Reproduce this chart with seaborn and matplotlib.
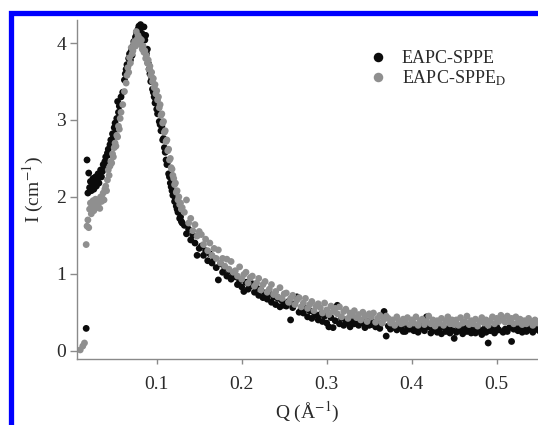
import numpy as np
import pandas as pd
import matplotlib
matplotlib.use("Agg")
import matplotlib.pyplot as plt
from matplotlib.patches import Rectangle
import seaborn as sns

nan = np.nan

# Scattering vector Q (1/Å), shared by both samples
q = [
    0.010, 0.011, 0.012, 0.013, 0.014, 0.015, 0.016, 0.017, 0.018, 0.019,
    0.020, 0.021, 0.022, 0.023, 0.024, 0.025, 0.026, 0.027, 0.028, 0.029,
    0.030, 0.031, 0.032, 0.033, 0.034, 0.035, 0.036, 0.037, 0.038, 0.039,
    0.040, 0.041, 0.042, 0.043, 0.044, 0.045, 0.046, 0.047, 0.048, 0.049,
    0.050, 0.051, 0.052, 0.053, 0.054, 0.055, 0.056, 0.057, 0.058, 0.059,
    0.060, 0.061, 0.062, 0.063, 0.064, 0.065, 0.066, 0.067, 0.068, 0.069,
    0.070, 0.071, 0.072, 0.073, 0.074, 0.075, 0.076, 0.077, 0.078, 0.079,
    0.080, 0.081, 0.082, 0.083, 0.084, 0.085, 0.086, 0.087, 0.088, 0.089,
    0.090, 0.091, 0.092, 0.093, 0.094, 0.095, 0.096, 0.097, 0.098, 0.099,
    0.100, 0.101, 0.102, 0.103, 0.104, 0.105, 0.106, 0.107, 0.108, 0.109,
    0.110, 0.111, 0.112, 0.113, 0.114, 0.115, 0.116, 0.117, 0.118, 0.119,
    0.120, 0.121, 0.122, 0.123, 0.124, 0.125, 0.126, 0.127, 0.128, 0.129,
    0.130,
    0.1325, 0.1350, 0.1375, 0.1400, 0.1425, 0.1450, 0.1475, 0.1500,
    0.1525, 0.1550, 0.1575, 0.1600, 0.1625, 0.1650, 0.1675, 0.1700,
    0.1725, 0.1750, 0.1775, 0.1800, 0.1825, 0.1850, 0.1875, 0.1900,
    0.1925, 0.1950, 0.1975, 0.2000, 0.2025, 0.2050, 0.2075, 0.2100,
    0.2125, 0.2150, 0.2175, 0.2200, 0.2225, 0.2250, 0.2275, 0.2300,
    0.2325, 0.2350, 0.2375, 0.2400, 0.2425, 0.2450, 0.2475, 0.2500,
    0.2525, 0.2550, 0.2575, 0.2600, 0.2625, 0.2650, 0.2675, 0.2700,
    0.2725, 0.2750, 0.2775, 0.2800, 0.2825, 0.2850, 0.2875, 0.2900,
    0.2925, 0.2950, 0.2975, 0.3000, 0.3025, 0.3050, 0.3075, 0.3100,
    0.3125, 0.3150, 0.3175, 0.3200, 0.3225, 0.3250, 0.3275, 0.3300,
    0.3325, 0.3350, 0.3375, 0.3400, 0.3425, 0.3450, 0.3475, 0.3500,
    0.3525, 0.3550, 0.3575, 0.3600, 0.3625, 0.3650, 0.3675, 0.3700,
    0.3725, 0.3750, 0.3775, 0.3800, 0.3825, 0.3850, 0.3875, 0.3900,
    0.3925, 0.3950, 0.3975, 0.4000, 0.4025, 0.4050, 0.4075, 0.4100,
    0.4125, 0.4150, 0.4175, 0.4200, 0.4225, 0.4250, 0.4275, 0.4300,
    0.4325, 0.4350, 0.4375, 0.4400, 0.4425, 0.4450, 0.4475, 0.4500,
    0.4525, 0.4550, 0.4575, 0.4600, 0.4625, 0.4650, 0.4675, 0.4700,
    0.4725, 0.4750, 0.4775, 0.4800, 0.4825, 0.4850, 0.4875, 0.4900,
    0.4925, 0.4950, 0.4975, 0.5000, 0.5025, 0.5050, 0.5075, 0.5100,
    0.5125, 0.5150, 0.5175, 0.5200, 0.5225, 0.5250, 0.5275, 0.5300,
    0.5325, 0.5350, 0.5375, 0.5400, 0.5425, 0.5450, 0.5475, 0.5500,
]

# Intensity I (1/cm), EAPC-SPPE
i_h = [
    nan, nan, nan, nan, nan, nan, nan, 0.29, 2.48, 2.05,
    2.31, 2.12, 2.20, 2.08, 2.16, 2.24, 2.10, 2.19, 2.26, 2.14,
    2.22, 2.30, 2.18, 2.27, 2.35, 2.26, 2.33, 2.42, 2.36, 2.46,
    2.52, 2.44, 2.57, 2.62, 2.55, 2.68, 2.74, 2.70, 2.82, 2.78,
    2.90, 2.96, 2.88, 3.02, 3.24, 3.10, 3.18, nan, 3.30, nan,
    3.36, nan, 3.52, 3.60, 3.66, 3.72, 3.70, 3.80, 3.86, 3.78,
    3.90, 3.84, 3.96, 4.02, 3.98, 4.08, 4.14, 4.10, 4.18, 4.22,
    4.16, 4.24, 4.20, 4.12, 4.06, 4.21, 4.04, 4.10, 3.86, 3.92,
    3.74, 3.66, 3.60, 3.50, 3.55, 3.40, 3.36, 3.30, 3.22, 3.26,
    3.14, 3.08, 3.16, 2.98, 2.94, 2.86, 2.92, 2.74, 2.76, 2.64,
    2.58, 2.48, 2.42, 2.46, 2.30, 2.26, 2.18, 2.13, 2.08, 2.02,
    2.04, 1.94, 1.97, 1.88, 1.84, 1.80, 1.82, 1.72, 1.74, 1.68,
    1.66,
    1.63, 1.52, 1.58, 1.44, 1.50, 1.40, 1.24, 1.33,
    1.36, 1.24, 1.30, 1.17, 1.26, 1.14, 1.20, 1.08,
    0.92, 1.13, 1.02, 1.08, 0.97, 1.04, 0.93, 0.99,
    0.96, 0.86, 0.91, 0.83, 0.77, 0.89, 0.80, 0.84,
    0.87, 0.76, 0.82, 0.72, 0.79, 0.69, 0.75, 0.67,
    0.74, 0.63, 0.70, 0.60, 0.68, 0.57, 0.65, 0.59,
    0.58, 0.64, 0.40, 0.56, 0.61, 0.70, 0.50, 0.55,
    0.49, 0.55, 0.44, 0.52, 0.42, 0.50, 0.46, 0.40,
    0.47, 0.38, 0.45, 0.36, 0.31, 0.43, 0.30, 0.39,
    0.59, 0.35, 0.42, 0.33, 0.40, 0.36, 0.31, 0.39,
    0.35, 0.39, 0.33, 0.37, 0.36, 0.30, 0.38, 0.33,
    0.34, 0.37, 0.31, 0.35, 0.29, 0.36, 0.51, 0.19,
    0.32, 0.28, 0.34, 0.30, 0.27, 0.33, 0.29, 0.25,
    0.25, 0.31, 0.28, 0.33, 0.26, 0.30, 0.24, 0.32,
    0.29, 0.26, 0.44, 0.31, 0.23, 0.30, 0.27, 0.24,
    0.28, 0.22, 0.31, 0.25, 0.29, 0.23, 0.27, 0.16,
    0.24, 0.30, 0.26, 0.22, 0.29, 0.25, 0.31, 0.23,
    0.27, 0.23, 0.30, 0.25, 0.21, 0.28, 0.24, 0.10,
    0.26, 0.29, 0.23, 0.31, 0.27, 0.42, 0.24, 0.28,
    0.25, 0.30, 0.12, 0.28, 0.33, 0.26, 0.30, 0.24,
    0.29, 0.25, 0.32, 0.27, 0.24, 0.30, 0.28, 0.26,
]

# Intensity I (1/cm), EAPC-SPPE_D
i_d = [
    0.01, nan, nan, 0.06, nan, 0.10, nan, 1.38, 1.62, 1.70,
    1.60, 1.84, 1.92, 1.78, 1.88, 1.95, 1.82, 1.90, 1.97, 1.86,
    1.92, 1.88, 1.96, 1.85, 2.00, 1.94, 1.98, 2.05, 1.96, 2.10,
    2.14, 2.08, 2.22, 2.35, 2.28, 2.40, 2.46, 2.44, 2.56, 2.52,
    2.64, 2.70, 2.66, 2.80, 2.78, 2.92, 2.88, 3.02, 3.10, nan,
    3.20, nan, 3.37, nan, 3.48, 3.58, 3.68, 3.62, 3.81, 3.74,
    3.94, 3.86, 3.90, 3.98, 4.02, 3.96, 4.15, 4.05, 4.10, 4.00,
    4.06, 3.98, 4.04, 3.92, 3.96, 3.88, 3.90, 3.80, 3.84, 3.74,
    3.78, 3.66, 3.70, 3.58, 3.62, 3.50, 3.54, 3.42, 3.46, 3.34,
    3.38, 3.26, 3.30, 3.16, 3.20, 3.06, 3.08, 2.96, 2.98, 2.84,
    2.86, 2.72, 2.74, 2.60, 2.62, 2.48, 2.50, 2.38, 2.36, 2.28,
    2.24, 2.16, 2.18, 2.06, 2.08, 1.96, 2.00, 1.90, 1.92, 1.84,
    1.86,
    1.80, 1.96, 1.66, 1.72, 1.56, 1.64, 1.49, 1.55,
    1.51, 1.38, 1.45, 1.30, 1.40, 1.24, 1.33, 1.20,
    1.31, 1.14, 1.20, 1.10, 1.19, 1.06, 1.16, 1.02,
    1.04, 0.97, 1.09, 0.93, 0.99, 1.02, 0.88, 0.95,
    0.97, 0.84, 0.88, 0.94, 0.79, 0.86, 0.90, 0.76,
    0.80, 0.86, 0.73, 0.77, 0.70, 0.82, 0.68, 0.74,
    0.75, 0.63, 0.68, 0.72, 0.60, 0.66, 0.69, 0.57,
    0.62, 0.68, 0.55, 0.60, 0.64, 0.52, 0.58, 0.61,
    0.56, 0.49, 0.62, 0.53, 0.47, 0.58, 0.51, 0.55,
    0.48, 0.57, 0.44, 0.51, 0.54, 0.42, 0.49, 0.46,
    0.52, 0.43, 0.47, 0.40, 0.50, 0.45, 0.38, 0.48,
    0.44, 0.49, 0.37, 0.42, 0.46, 0.36, 0.41, 0.45,
    0.42, 0.36, 0.40, 0.33, 0.44, 0.38, 0.35, 0.41,
    0.37, 0.43, 0.34, 0.40, 0.36, 0.44, 0.33, 0.39,
    0.41, 0.34, 0.38, 0.45, 0.35, 0.40, 0.32, 0.39,
    0.36, 0.42, 0.33, 0.39, 0.44, 0.35, 0.40, 0.34,
    0.40, 0.33, 0.43, 0.36, 0.38, 0.45, 0.34, 0.39,
    0.35, 0.41, 0.32, 0.38, 0.43, 0.36, 0.40, 0.33,
    0.39, 0.44, 0.35, 0.42, 0.38, 0.46, 0.40, 0.37,
    0.45, 0.38, 0.42, 0.35, 0.44, 0.37, 0.41, 0.34,
    0.39, 0.35, 0.42, 0.37, 0.33, 0.40, 0.36, 0.38,
]

samples = ["EAPC-SPPE", "EAPC-SPPE$_{\\mathrm{D}}$"]
colors = ["#0b0b0b", "#8f8f8f"]
x_ticks = [0.1, 0.2, 0.3, 0.4, 0.5]
y_ticks = [0, 1, 2, 3, 4]

sns.set_theme(style="ticks")
plt.rcParams["font.family"] = ["Liberation Serif", "DejaVu Serif"]
plt.rcParams["mathtext.fontset"] = "stix"

df = pd.DataFrame({
    "Q": q + q,
    "I": i_h + i_d,
    "sample": [samples[0]] * len(q) + [samples[1]] * len(q),
}).dropna()

W, H = 538, 425
fig = plt.figure(figsize=(W / 100, H / 100), dpi=100)
fig.patch.set_facecolor("white")

ax = fig.add_axes([77 / W, 66 / H, (W - 77) / W, 339 / H])
sns.scatterplot(data=df, x="Q", y="I", hue="sample", hue_order=samples,
                palette=dict(zip(samples, colors)), s=24, linewidth=0,
                alpha=1.0, ax=ax)

ax.set_xlim(0.0062, 0.5486)
ax.set_ylim(-0.108, 4.30)
ax.set_xticks(x_ticks)
ax.set_yticks(y_ticks)
ax.set_xticklabels([f"{t:g}" for t in x_ticks])
ax.set_yticklabels([f"{t:g}" for t in y_ticks])

spine_col = "#8a8a8a"
text_col = "#2a2a2a"
for side in ("top", "right"):
    ax.spines[side].set_visible(False)
for side in ("left", "bottom"):
    ax.spines[side].set_color(spine_col)
    ax.spines[side].set_linewidth(1.0)
ax.tick_params(axis="both", colors=spine_col, labelcolor=text_col,
               labelsize=14, width=1.0, direction="out")
ax.tick_params(axis="y", length=5, pad=3)
ax.tick_params(axis="x", length=3.5, pad=9)

ax.set_xlabel("Q (Å$^{-1}$)", fontsize=14, color=text_col, labelpad=4.5)
ax.set_ylabel("I (cm$^{-1}$)", fontsize=14, color=text_col, labelpad=7)

leg = ax.legend(loc="upper left", bbox_to_anchor=(369 / W, 1 - 50 / H),
                bbox_transform=fig.transFigure, frameon=False, fontsize=13,
                borderpad=0, borderaxespad=0, handlelength=1.0,
                handletextpad=0.8, labelspacing=0.1, markerscale=1.4,
                title=None)
for t in leg.get_texts():
    t.set_color(text_col)

# blue frame around the panel
frame = Rectangle((11 / W, -1.5 / H), 1.2, (H - 12.5 + 1.5) / H,
                  transform=fig.transFigure, fill=False,
                  edgecolor="#0000ff", linewidth=3.8, clip_on=False)
fig.add_artist(frame)

fig.savefig("out.png", dpi=100)
